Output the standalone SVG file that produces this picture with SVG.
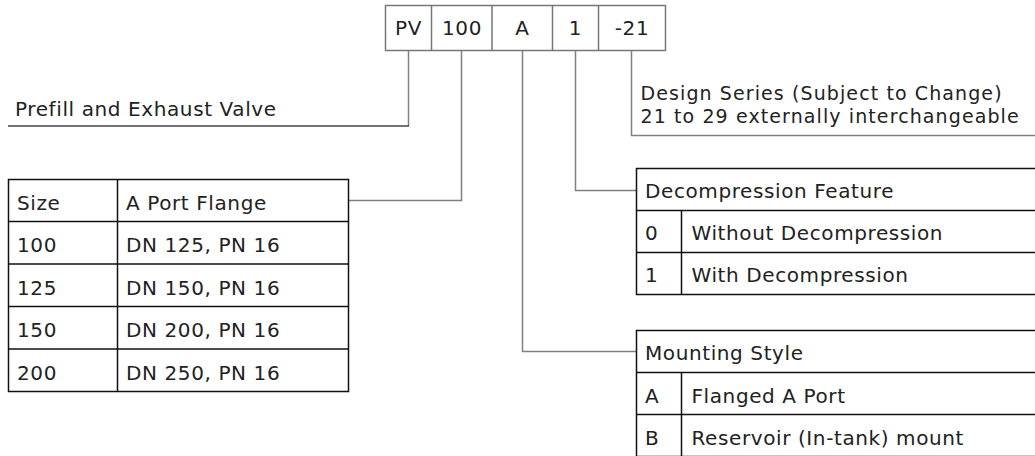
<svg xmlns="http://www.w3.org/2000/svg" width="1035" height="456" viewBox="0 0 1035 456">
<style>
text{font-family:"DejaVu Sans","Verdana",sans-serif;font-size:20px;letter-spacing:0.6px;fill:#222}
.ds{font-size:19px;letter-spacing:1.1px}
.c{text-anchor:middle}
.code{fill:#fff;stroke:#777;stroke-width:1.5}
.tbl{fill:#fff;stroke:#111;stroke-width:1.5}
.ln{fill:none;stroke:#111;stroke-width:1.5}
.con{fill:none;stroke:#808080;stroke-width:1.5}
</style>
<rect width="1035" height="456" fill="#fff"/>
<g id="connectors">
<path class="con" d="M408.5 50 V126"/>
<path fill="none" stroke="#444" stroke-width="1.5" d="M409 126 H8"/>
<path class="con" d="M461.5 50 V200.5 H348.5"/>
<path class="con" d="M522.5 50 V351.5 H636.5"/>
<path class="con" d="M575.5 50 V190.5 H636.5"/>
<path class="con" d="M631.5 50 V135.5 H1035"/>
</g>
<g id="code">
<rect class="code" x="385.5" y="5.5" width="280" height="45"/>
<path class="code" d="M431.5 5.5V50.5M492 5.5V50.5M552.5 5.5V50.5M598.5 5.5V50.5"/>
<text class="c" x="408.5" y="35">PV</text>
<text class="c" x="462" y="35">100</text>
<text class="c" x="522.5" y="35">A</text>
<text class="c" x="575.5" y="35">1</text>
<text class="c" x="632" y="35">-21</text>
</g>
<g id="prefill">
<text x="15" y="116">Prefill and Exhaust Valve</text>
</g>
<g id="design-series">
<text class="ds" x="640.5" y="100">Design Series (Subject to Change)</text>
<text class="ds" x="640.5" y="122.5">21 to 29 externally interchangeable</text>
</g>
<g id="size-table">
<rect class="tbl" x="8.5" y="179.5" width="340" height="212"/>
<path class="ln" d="M8.5 221.5H348.5M8.5 264H348.5M8.5 306.5H348.5M8.5 349H348.5M117.5 179.5V391.5"/>
<text x="17" y="210">Size</text><text x="126" y="210">A Port Flange</text>
<text x="17" y="252">100</text><text x="126" y="252">DN 125, PN 16</text>
<text x="17" y="294.5">125</text><text x="126" y="294.5">DN 150, PN 16</text>
<text x="17" y="337">150</text><text x="126" y="337">DN 200, PN 16</text>
<text x="17" y="379.5">200</text><text x="126" y="379.5">DN 250, PN 16</text>
</g>
<g id="decompression-table">
<rect class="tbl" x="636.5" y="168.5" width="410" height="126"/>
<path class="ln" d="M636.5 210.5H1040M636.5 252.5H1040M681.5 210.5V294.5"/>
<text x="645" y="197.5">Decompression Feature</text>
<text x="645" y="240">0</text><text x="691.5" y="240">Without Decompression</text>
<text x="645" y="282">1</text><text x="691.5" y="282">With Decompression</text>
</g>
<g id="mounting-table">
<rect class="tbl" x="636.5" y="330.5" width="410" height="126"/>
<path class="ln" d="M636.5 372.5H1040M636.5 414.5H1040M681.5 372.5V460"/>
<text x="645" y="360">Mounting Style</text>
<text x="645" y="402.5">A</text><text x="691.5" y="402.5">Flanged A Port</text>
<text x="645" y="445">B</text><text x="691.5" y="445">Reservoir (In-tank) mount</text>
</g>
</svg>
